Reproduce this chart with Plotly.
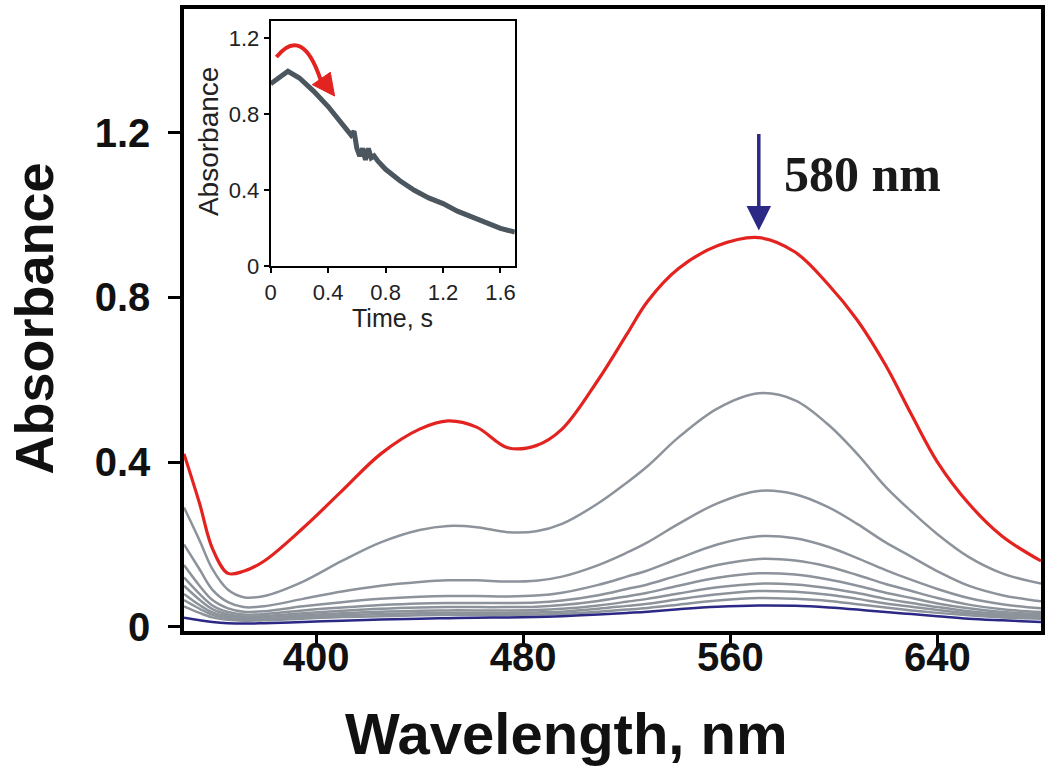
import plotly.graph_objects as go

# ---------------- data ----------------
wavelength = [349, 355, 360, 366, 372, 380, 395, 410, 425, 440, 451, 462, 474, 485, 495,
              509, 520, 528, 540, 555, 571, 585, 598, 609, 620, 630, 640, 652, 665, 680]

abs_initial = [0.42, 0.30, 0.19, 0.13, 0.135, 0.16, 0.24, 0.33, 0.42, 0.48, 0.50, 0.485, 0.435, 0.44, 0.48,
               0.60, 0.71, 0.79, 0.87, 0.925, 0.945, 0.91, 0.83, 0.745, 0.635, 0.515, 0.40, 0.30, 0.22, 0.16]
abs_t1 = [0.29, 0.21, 0.14, 0.09, 0.072, 0.075, 0.11, 0.16, 0.205, 0.235, 0.245, 0.242, 0.23, 0.232, 0.25,
          0.30, 0.35, 0.39, 0.46, 0.53, 0.567, 0.55, 0.49, 0.42, 0.34, 0.28, 0.225, 0.17, 0.13, 0.105]
abs_t2 = [0.20, 0.14, 0.09, 0.06, 0.048, 0.05, 0.068, 0.086, 0.1, 0.109, 0.113, 0.113, 0.11, 0.112, 0.122,
          0.15, 0.18, 0.205, 0.25, 0.3, 0.33, 0.322, 0.29, 0.25, 0.205, 0.17, 0.135, 0.1, 0.077, 0.062]
abs_t3 = [0.15, 0.10, 0.065, 0.045, 0.037, 0.038, 0.05, 0.06, 0.068, 0.073, 0.075, 0.075, 0.074, 0.076, 0.083,
          0.102, 0.122, 0.137, 0.166, 0.2, 0.22, 0.215, 0.194, 0.167, 0.138, 0.114, 0.092, 0.07, 0.055, 0.045]
abs_t4 = [0.12, 0.08, 0.052, 0.036, 0.03, 0.031, 0.04, 0.047, 0.053, 0.057, 0.058, 0.058, 0.058, 0.059, 0.064,
          0.077, 0.092, 0.103, 0.125, 0.15, 0.165, 0.161, 0.146, 0.126, 0.104, 0.087, 0.07, 0.054, 0.043, 0.036]
abs_t5 = [0.10, 0.066, 0.043, 0.03, 0.025, 0.026, 0.033, 0.039, 0.044, 0.047, 0.048, 0.048, 0.048, 0.049, 0.053,
          0.063, 0.074, 0.083, 0.1, 0.119, 0.13, 0.127, 0.115, 0.1, 0.083, 0.07, 0.057, 0.045, 0.036, 0.031]
abs_t6 = [0.08, 0.053, 0.035, 0.025, 0.021, 0.022, 0.028, 0.033, 0.037, 0.039, 0.04, 0.04, 0.04, 0.041, 0.044,
          0.052, 0.061, 0.068, 0.081, 0.096, 0.105, 0.103, 0.094, 0.082, 0.068, 0.058, 0.048, 0.038, 0.031, 0.027]
abs_t7 = [0.065, 0.044, 0.029, 0.021, 0.018, 0.019, 0.024, 0.028, 0.031, 0.033, 0.034, 0.034, 0.034, 0.035, 0.037,
          0.044, 0.051, 0.056, 0.067, 0.079, 0.087, 0.085, 0.078, 0.068, 0.057, 0.049, 0.041, 0.033, 0.027, 0.023]
abs_t8 = [0.05, 0.034, 0.023, 0.017, 0.015, 0.016, 0.02, 0.024, 0.026, 0.028, 0.029, 0.029, 0.029, 0.03, 0.032,
          0.037, 0.042, 0.046, 0.054, 0.064, 0.07, 0.068, 0.063, 0.055, 0.047, 0.04, 0.034, 0.028, 0.023, 0.02]
abs_final = [0.022, 0.016, 0.012, 0.009, 0.008, 0.009, 0.012, 0.015, 0.018, 0.02, 0.021, 0.022, 0.023, 0.024, 0.026,
             0.03, 0.034, 0.037, 0.043, 0.049, 0.052, 0.051, 0.047, 0.042, 0.036, 0.031, 0.026, 0.02, 0.016, 0.012]

grey_series = [abs_t1, abs_t2, abs_t3, abs_t4, abs_t5, abs_t6, abs_t7, abs_t8]

# inset kinetic trace at 580 nm
time_s = [0, 0.05, 0.12, 0.2, 0.3, 0.4, 0.5, 0.56, 0.58, 0.6, 0.62, 0.64, 0.66, 0.68, 0.7, 0.72,
          0.75, 0.8, 0.9, 1.0, 1.1, 1.2, 1.3, 1.4, 1.5, 1.6, 1.7]
abs_580 = [0.96, 0.99, 1.025, 0.99, 0.92, 0.84, 0.75, 0.69, 0.71, 0.62, 0.58, 0.62, 0.56, 0.62, 0.57, 0.58,
           0.55, 0.51, 0.45, 0.40, 0.36, 0.33, 0.29, 0.26, 0.23, 0.20, 0.18]

x_ticks = [400, 480, 560, 640]
y_ticks = [0, 0.4, 0.8, 1.2]
y_ticktext = ["0", "0.4", "0.8", "1.2"]
inset_x_ticks = [0, 0.4, 0.8, 1.2, 1.6]
inset_x_ticktext = ["0", "0.4", "0.8", "1.2", "1.6"]
inset_y_ticks = [0, 0.4, 0.8, 1.2]
inset_y_ticktext = ["0", "0.4", "0.8", "1.2"]

# ---------------- layout geometry (pixels) ----------------
W, H = 1050, 783
PL, PR, PT, PB = 184, 1044, 5, 631          # main plot area
IL, IR, IT, IB = 271, 516, 17, 264          # inset plot area


def px_x(px):
    return (px - PL) / (PR - PL)


def px_y(py):
    return (PB - py) / (PB - PT)


RED = "#e3231f"
GREY = "#8d939b"
NAVY = "#2c2886"
SANS = "Liberation Sans, Arial, sans-serif"

fig = go.Figure()

for s in grey_series:
    fig.add_trace(go.Scatter(x=wavelength, y=s, mode="lines", line=dict(color=GREY, width=2.5, shape="spline"),
                             showlegend=False, hoverinfo="skip"))
fig.add_trace(go.Scatter(x=wavelength, y=abs_final, mode="lines",
                         line=dict(color=NAVY, width=2.5, shape="spline"), showlegend=False))
fig.add_trace(go.Scatter(x=wavelength, y=abs_initial, mode="lines",
                         line=dict(color=RED, width=3.2, shape="spline"), showlegend=False))

fig.add_trace(go.Scatter(x=time_s, y=abs_580, mode="lines", xaxis="x2", yaxis="y2",
                         line=dict(color="#4b565e", width=5), showlegend=False))

axis_common = dict(showgrid=False, zeroline=False, showline=True, linecolor="black",
                   mirror=True, ticks="outside", tickcolor="black")

fig.update_layout(
    width=W, height=H,
    margin=dict(l=PL, r=W - PR, t=PT, b=H - PB),
    paper_bgcolor="white", plot_bgcolor="white",
    xaxis=dict(**axis_common, range=[349, 680], tickvals=x_ticks, linewidth=3.5, ticklen=12, tickwidth=3,
               ticklabelstandoff=-24,
               tickfont=dict(family=SANS, size=40, color="#111", weight="bold")),
    yaxis=dict(**axis_common, range=[-0.01, 1.5], tickvals=y_ticks, ticktext=y_ticktext,
               linewidth=3.5, ticklen=12, tickwidth=3, ticklabelstandoff=10,
               tickfont=dict(family=SANS, size=40, color="#111", weight="bold")),
    xaxis2=dict(**axis_common, domain=[px_x(IL), px_x(IR)], anchor="y2", range=[0, 1.7],
                tickvals=inset_x_ticks, ticktext=inset_x_ticktext, linewidth=2, ticklen=5, tickwidth=2,
                tickfont=dict(family=SANS, size=22, color="#222")),
    yaxis2=dict(**axis_common, domain=[px_y(IB), px_y(IT)], anchor="x2", range=[0, 1.29],
                tickvals=inset_y_ticks, ticktext=inset_y_ticktext, linewidth=2, ticklen=5, tickwidth=2,
                tickfont=dict(family=SANS, size=22, color="#222")),
)

annotations = [
    dict(text="Wavelength, nm", xref="paper", yref="paper", x=px_x(568), y=px_y(734),
         xanchor="center", yanchor="middle", showarrow=False,
         font=dict(family=SANS, size=58, color="#111", weight="bold")),
    dict(text="Absorbance", xref="paper", yref="paper", x=px_x(33), y=px_y(317), textangle=-90,
         xanchor="center", yanchor="middle", showarrow=False,
         font=dict(family=SANS, size=54, color="#111", weight="bold")),
    dict(text="Time, s", xref="paper", yref="paper", x=px_x((IL + IR) / 2), y=px_y(316),
         xanchor="center", yanchor="middle", showarrow=False,
         font=dict(family=SANS, size=25, color="#222")),
    dict(text="Absorbance", xref="paper", yref="paper", x=px_x(208), y=px_y(138), textangle=-90,
         xanchor="center", yanchor="middle", showarrow=False,
         font=dict(family=SANS, size=28, color="#222")),
    dict(text="580 nm", xref="x", yref="y", x=580, y=1.1, xanchor="left", yanchor="middle",
         showarrow=False, font=dict(family="Liberation Serif, Times New Roman, serif", size=50,
                                    color="#1a1a1a", weight="bold")),
    dict(text="", xref="x", yref="y", x=571, y=0.962, axref="x", ayref="y", ax=571, ay=1.2,
         showarrow=True, arrowhead=2, arrowsize=1.4, arrowwidth=3.5, arrowcolor=NAVY),
]
fig.update_layout(annotations=annotations)

# curved red arrow in inset
fig.add_shape(type="path", xref="x2", yref="y2", path="M 0.04,1.1 Q 0.22,1.27 0.35,0.975",
              line=dict(color=RED, width=4))
fig.add_shape(type="path", xref="x2", yref="y2",
              path="M 0.29,0.955 L 0.415,1.02 L 0.445,0.895 Z",
              fillcolor=RED, line=dict(color=RED, width=1))

fig.write_html("out.html", config={"displayModeBar": False},
               post_script="document.body.style.margin='0px';")
